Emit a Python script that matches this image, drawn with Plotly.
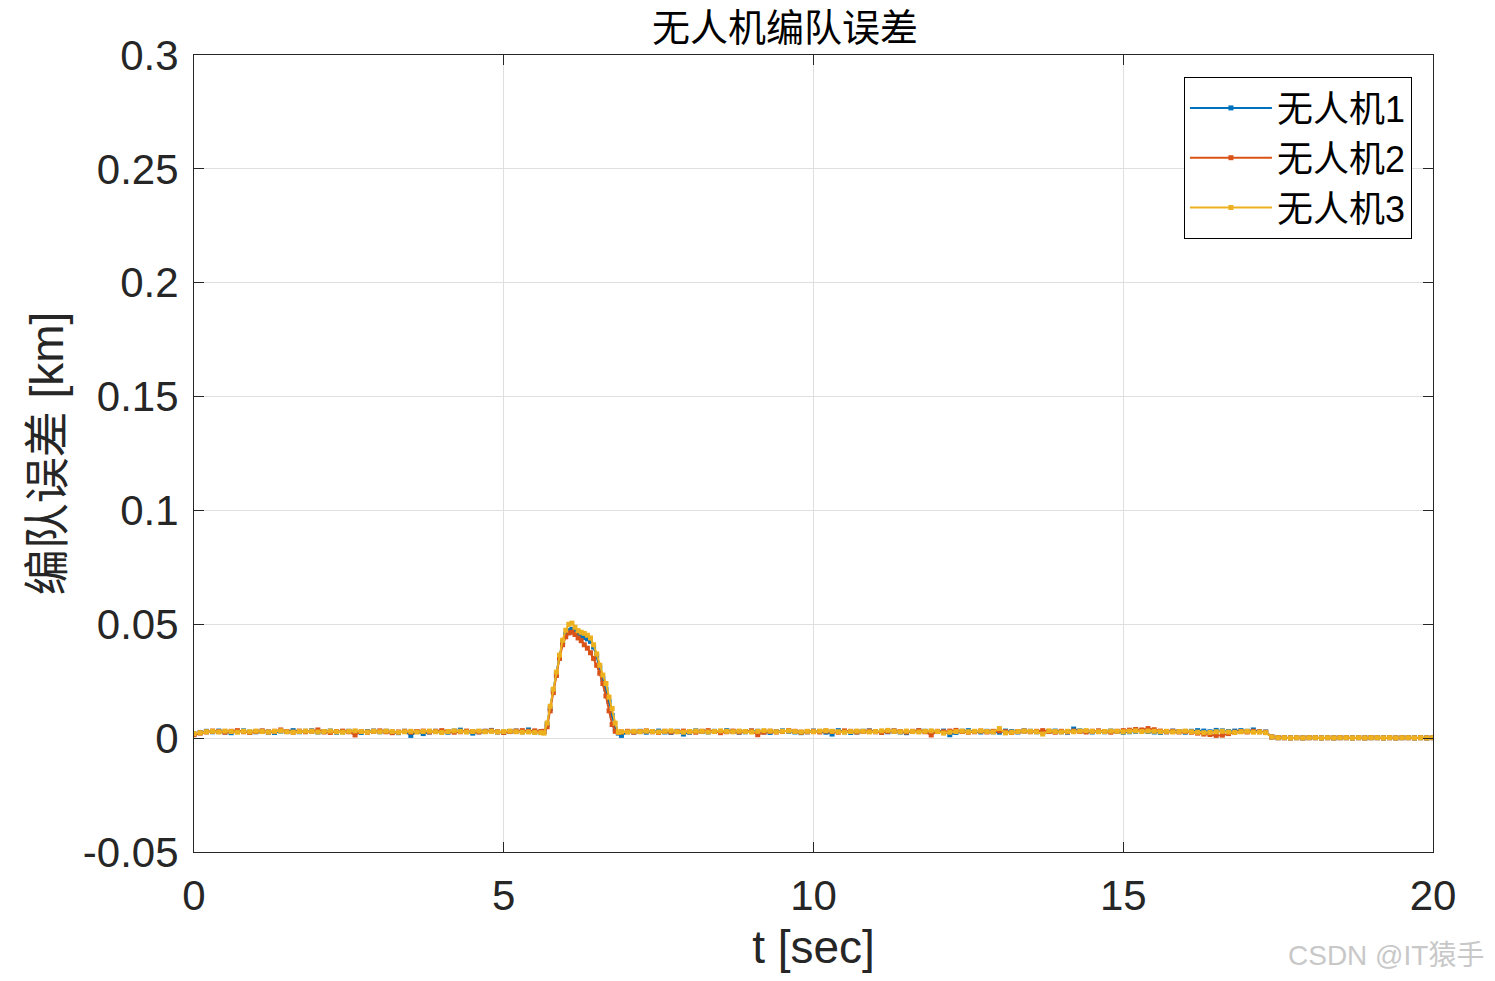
import plotly.graph_objects as go

# ---------------- data (km) ----------------
series_names = ["无人机1", "无人机2", "无人机3"]
colors = ["#0072BD", "#D95319", "#EDB120"]

dt = 0.1
t_pre_start = 0.0
t_post_start = 6.9
t_tail_start = 17.4

u1_pre = [0.0018, 0.0025, 0.0030, 0.0028, 0.0031, 0.0027, 0.0024, 0.0029, 0.0032, 0.0026,
          0.0028, 0.0030, 0.0027, 0.0025, 0.0031, 0.0029, 0.0033, 0.0028, 0.0030, 0.0032,
          0.0027, 0.0029, 0.0031, 0.0026, 0.0028, 0.0030, 0.0027, 0.0025, 0.0029, 0.0031,
          0.0028, 0.0030, 0.0026, 0.0024, 0.0030, 0.0012, 0.0029, 0.0020, 0.0027, 0.0030,
          0.0028, 0.0026, 0.0031, 0.0035, 0.0029, 0.0022, 0.0028, 0.0030, 0.0034, 0.0027,
          0.0026, 0.0029, 0.0031, 0.0028, 0.0036, 0.0027, 0.0026]
u2_pre = [0.0015, 0.0022, 0.0027, 0.0031, 0.0029, 0.0026, 0.0030, 0.0033, 0.0028, 0.0025,
          0.0029, 0.0032, 0.0027, 0.0030, 0.0036, 0.0029, 0.0026, 0.0031, 0.0028, 0.0030,
          0.0036, 0.0027, 0.0025, 0.0029, 0.0031, 0.0028, 0.0014, 0.0029, 0.0026, 0.0030,
          0.0032, 0.0028, 0.0024, 0.0027, 0.0030, 0.0026, 0.0029, 0.0031, 0.0027, 0.0030,
          0.0033, 0.0029, 0.0026, 0.0028, 0.0031, 0.0029, 0.0027, 0.0030, 0.0032, 0.0028,
          0.0025, 0.0029, 0.0031, 0.0033, 0.0030, 0.0032, 0.0029]
u3_pre = [0.0020, 0.0024, 0.0028, 0.0030, 0.0027, 0.0031, 0.0029, 0.0026, 0.0030, 0.0028,
          0.0031, 0.0029, 0.0027, 0.0030, 0.0032, 0.0028, 0.0026, 0.0029, 0.0031, 0.0030,
          0.0027, 0.0029, 0.0031, 0.0028, 0.0026, 0.0030, 0.0032, 0.0029, 0.0027, 0.0030,
          0.0028, 0.0031, 0.0029, 0.0026, 0.0028, 0.0030, 0.0027, 0.0029, 0.0031, 0.0028,
          0.0025, 0.0029, 0.0032, 0.0030, 0.0027, 0.0029, 0.0031, 0.0028, 0.0030, 0.0027,
          0.0029, 0.0031, 0.0028, 0.0026, 0.0027, 0.0025, 0.0024]

t_peak = [5.65, 5.70, 5.75, 5.80, 5.85, 5.90, 5.95, 6.00, 6.05, 6.10, 6.15, 6.20, 6.25,
          6.30, 6.35, 6.40, 6.45, 6.50, 6.55, 6.60, 6.65, 6.70, 6.75, 6.80, 6.85]
u1_peak = [0.0028, 0.0060, 0.0130, 0.0210, 0.0285, 0.0360, 0.0420, 0.0455, 0.0472, 0.0478,
           0.0470, 0.0458, 0.0448, 0.0442, 0.0436, 0.0425, 0.0400, 0.0360, 0.0310, 0.0260,
           0.0215, 0.0160, 0.0100, 0.0040, 0.0022]
u2_peak = [0.0030, 0.0050, 0.0120, 0.0200, 0.0275, 0.0350, 0.0410, 0.0445, 0.0462, 0.0465,
           0.0455, 0.0440, 0.0428, 0.0410, 0.0395, 0.0375, 0.0350, 0.0320, 0.0285, 0.0240,
           0.0185, 0.0120, 0.0060, 0.0030, 0.0025]
u3_peak = [0.0022, 0.0066, 0.0140, 0.0215, 0.0290, 0.0365, 0.0430, 0.0474, 0.0500, 0.0505,
           0.0487, 0.0472, 0.0465, 0.0460, 0.0452, 0.0440, 0.0410, 0.0370, 0.0320, 0.0277,
           0.0240, 0.0180, 0.0130, 0.0066, 0.0026]

u1_post = [0.0012, 0.0028, 0.0027, 0.0030, 0.0026, 0.0029, 0.0031, 0.0027, 0.0025, 0.0030,
           0.0018, 0.0026, 0.0032, 0.0029, 0.0027, 0.0030, 0.0028, 0.0033, 0.0029, 0.0026,
           0.0028, 0.0031, 0.0030, 0.0027, 0.0025, 0.0029, 0.0032, 0.0030, 0.0027, 0.0024,
           0.0028, 0.0031, 0.0029, 0.0026, 0.0018, 0.0033, 0.0028, 0.0025, 0.0027, 0.0030,
           0.0032, 0.0029, 0.0026, 0.0028, 0.0031, 0.0027, 0.0024, 0.0029, 0.0032, 0.0030,
           0.0027, 0.0029, 0.0031, 0.0015, 0.0025, 0.0030, 0.0033, 0.0029, 0.0027, 0.0030,
           0.0028, 0.0026, 0.0031, 0.0029, 0.0027, 0.0032, 0.0030, 0.0028, 0.0025, 0.0029,
           0.0031, 0.0028, 0.0026, 0.0040, 0.0032, 0.0029, 0.0027, 0.0030, 0.0028, 0.0031,
           0.0029, 0.0026, 0.0028, 0.0030, 0.0032, 0.0029, 0.0027, 0.0025, 0.0028, 0.0031,
           0.0029, 0.0026, 0.0030, 0.0033, 0.0031, 0.0028, 0.0034, 0.0032, 0.0029, 0.0031,
           0.0033, 0.0030, 0.0036, 0.0029, 0.0027]
u2_post = [0.0027, 0.0030, 0.0026, 0.0029, 0.0032, 0.0028, 0.0025, 0.0030, 0.0027, 0.0029,
           0.0031, 0.0028, 0.0026, 0.0030, 0.0033, 0.0029, 0.0024, 0.0028, 0.0031, 0.0027,
           0.0029, 0.0032, 0.0015, 0.0026, 0.0030, 0.0027, 0.0029, 0.0033, 0.0030, 0.0026,
           0.0028, 0.0030, 0.0027, 0.0031, 0.0029, 0.0026, 0.0032, 0.0030, 0.0027, 0.0029,
           0.0031, 0.0028, 0.0025, 0.0030, 0.0032, 0.0029, 0.0027, 0.0030, 0.0033, 0.0028,
           0.0014, 0.0030, 0.0028, 0.0031, 0.0034, 0.0029, 0.0026, 0.0028, 0.0031, 0.0027,
           0.0030, 0.0032, 0.0028, 0.0025, 0.0029, 0.0031, 0.0028, 0.0030, 0.0033, 0.0029,
           0.0026, 0.0030, 0.0028, 0.0031, 0.0029, 0.0027, 0.0030, 0.0032, 0.0029, 0.0026,
           0.0030, 0.0033, 0.0035, 0.0038, 0.0036, 0.0042, 0.0037, 0.0031, 0.0028, 0.0030,
           0.0027, 0.0029, 0.0026, 0.0022, 0.0018, 0.0016, 0.0012, 0.0013, 0.0020, 0.0026,
           0.0029, 0.0027, 0.0030, 0.0028, 0.0026]
u3_post = [0.0028, 0.0027, 0.0030, 0.0028, 0.0031, 0.0029, 0.0027, 0.0030, 0.0032, 0.0028,
           0.0026, 0.0029, 0.0031, 0.0030, 0.0027, 0.0029, 0.0032, 0.0030, 0.0028, 0.0031,
           0.0029, 0.0027, 0.0030, 0.0033, 0.0031, 0.0028, 0.0030, 0.0032, 0.0029, 0.0027,
           0.0030, 0.0028, 0.0031, 0.0033, 0.0030, 0.0028, 0.0026, 0.0029, 0.0031, 0.0030,
           0.0027, 0.0029, 0.0032, 0.0034, 0.0030, 0.0028, 0.0031, 0.0029, 0.0027, 0.0030,
           0.0032, 0.0029, 0.0022, 0.0026, 0.0029, 0.0031, 0.0028, 0.0030, 0.0032, 0.0029,
           0.0027, 0.0042, 0.0023, 0.0026, 0.0029, 0.0031, 0.0030, 0.0028, 0.0018, 0.0032,
           0.0029, 0.0027, 0.0030, 0.0028, 0.0031, 0.0033, 0.0030, 0.0028, 0.0029, 0.0031,
           0.0030, 0.0028, 0.0030, 0.0032, 0.0029, 0.0031, 0.0030, 0.0028, 0.0030, 0.0027,
           0.0029, 0.0031, 0.0028, 0.0026, 0.0024, 0.0025, 0.0028, 0.0030, 0.0027, 0.0025,
           0.0028, 0.0030, 0.0026, 0.0027, 0.0024]

u_tail = [0.0005, 0.0002, 0.0002, 0.0001, 0.0002, 0.0001, 0.0002, 0.0002, 0.0001, 0.0002,
          0.0001, 0.0002, 0.0002, 0.0001, 0.0002, 0.0001, 0.0002, 0.0002, 0.0001, 0.0002,
          0.0001, 0.0002, 0.0002, 0.0001, 0.0002, 0.0001, 0.0002]

x_ticks = [0, 5, 10, 15, 20]
y_ticks = [-0.05, 0, 0.05, 0.1, 0.15, 0.2, 0.25, 0.3]
y_tick_labels = ["-0.05", "0", "0.05", "0.1", "0.15", "0.2", "0.25", "0.3"]

title_text = "无人机编队误差"
x_title = "t [sec]"
y_title = "编队误差 [km]"
watermark = "CSDN @IT猿手"


def times(start, n):
    return [round(start + i * dt, 3) for i in range(n)]


def build(pre, peak, post):
    t = times(t_pre_start, len(pre)) + t_peak + times(t_post_start, len(post)) + times(t_tail_start, len(u_tail))
    v = pre + peak + post + u_tail
    return t, v


all_series = [(u1_pre, u1_peak, u1_post), (u2_pre, u2_peak, u2_post), (u3_pre, u3_peak, u3_post)]

FONT = "Liberation Sans, Arial, Noto Sans CJK SC, sans-serif"
AXC = "#262626"

# page body has an 8px margin; the figure is sized to fit inside it
W, H = 1479, 965
ML, MR, MT, MB = 186, 54, 47, 121
PW, PH = W - ML - MR, H - MT - MB

fig = go.Figure()
for name, col, (pre, pk, post) in zip(series_names, colors, all_series):
    t, v = build(pre, pk, post)
    fig.add_trace(go.Scatter(
        x=t, y=v, name=name, mode="lines+markers",
        line=dict(color=col, width=2),
        marker=dict(symbol="square", size=5, color=col, line=dict(width=0)),
    ))

fig.update_layout(
    width=W, height=H,
    margin=dict(l=ML, r=MR, t=MT, b=MB, autoexpand=False),
    paper_bgcolor="white", plot_bgcolor="white",
    font=dict(family=FONT, color=AXC, size=40),
    title=dict(text=title_text, x=777 / W, xanchor="center", xref="container",
               y=1 - 20 / H, yanchor="middle", yref="container",
               font=dict(size=38, color="#000000", family="Noto Sans CJK SC, sans-serif")),
    showlegend=True,
    legend=dict(x=0.983, y=0.9724, xanchor="right", yanchor="top",
                bgcolor="white", bordercolor="#000000", borderwidth=1,
                font=dict(size=36, color="#000000", family=FONT),
                itemwidth=82, tracegroupgap=0),
)

fig.update_xaxes(
    range=[0, 20], tickvals=x_ticks, ticktext=[str(v) for v in x_ticks],
    automargin=False,
    showgrid=True, gridcolor="#dfdfdf", gridwidth=1, zeroline=False,
    showline=True, linecolor=AXC, linewidth=1, mirror="ticks",
    ticks="inside", ticklen=10, tickcolor=AXC,
    tickfont=dict(size=42, color=AXC), ticklabelstandoff=7,
    title=dict(text=x_title, font=dict(size=46, color=AXC), standoff=22),
)
fig.update_yaxes(
    range=[-0.05, 0.3], tickvals=y_ticks, ticktext=y_tick_labels,
    automargin=False,
    showgrid=True, gridcolor="#dfdfdf", gridwidth=1, zeroline=False,
    showline=True, linecolor=AXC, linewidth=1, mirror="ticks",
    ticks="inside", ticklen=10, tickcolor=AXC,
    tickfont=dict(size=42, color=AXC), ticklabelstandoff=6,
    title=dict(text=y_title, font=dict(size=46, color=AXC), standoff=4),
)

fig.add_annotation(text=watermark, xref="paper", yref="paper",
                   x=(1478 - ML) / PW, y=-(947 - (H - MB)) / PH,
                   xanchor="right", yanchor="middle",
                   showarrow=False, font=dict(size=28, color="#c8c8c8", family=FONT))

fig.write_html("out.html")
